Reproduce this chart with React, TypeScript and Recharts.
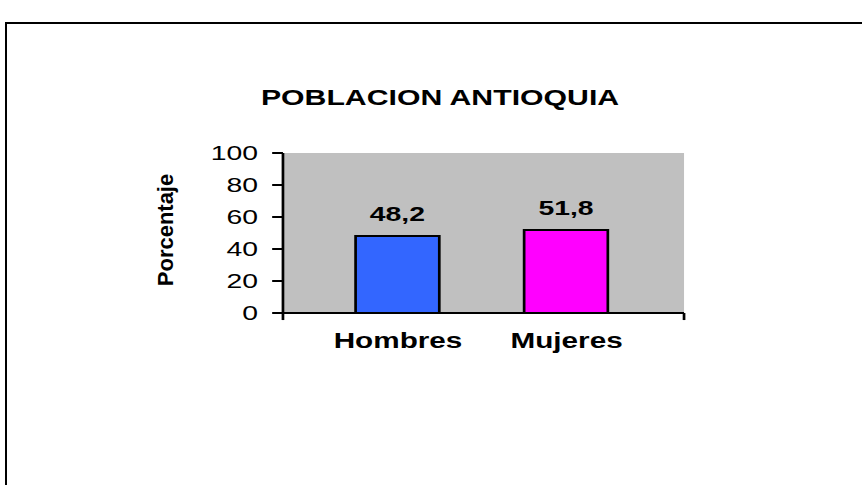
import React from 'react';
import { BarChart, Bar, XAxis, YAxis, CartesianGrid, LabelList, Label, ReferenceLine, Cell } from 'recharts';

const categories = ['Hombres', 'Mujeres'];
const values = [48.2, 51.8];
const barColors = ['#3366FF', '#FF00FF'];
const yTicks = [0, 20, 40, 60, 80, 100];
const titleText = 'POBLACION ANTIOQUIA';
const yAxisTitle = 'Porcentaje';

const data = categories.map((name, i) => ({ name, value: values[i] }));

const S = 1.35;
const W = 862 / S;
const FONT = '"Liberation Sans", Arial, sans-serif';

const fmt = (v: number) => String(v).replace('.', ',');

const YTitle = (props: any) => {
  const vb = props.viewBox || {};
  const x = vb.x + 18.5;
  const y = vb.y + vb.height / 2 - 3;
  return (
    <text
      transform={`translate(${x},${y}) scale(${1 / S},1) rotate(-90)`}
      textAnchor="middle"
      fill="#000"
      fontSize={22}
      fontWeight="bold"
      fontFamily={FONT}
    >
      {yAxisTitle}
    </text>
  );
};

export default function App() {
  return (
    <div style={{ position: 'fixed', left: 0, top: 0, width: 862, height: 485, overflow: 'hidden', background: '#fff', fontFamily: FONT }}>
      <div style={{ position: 'absolute', left: 5, top: 22, width: 857, height: 2, background: '#000' }} />
      <div style={{ position: 'absolute', left: 5, top: 22, width: 2, height: 463, background: '#000' }} />
      <div style={{ position: 'absolute', left: 0, top: 0, width: W, height: 485, transform: `scaleX(${S})`, transformOrigin: '0 0' }}>
        <div style={{ position: 'absolute', left: 0, width: 651.9, top: 85, textAlign: 'center', fontWeight: 'bold', fontSize: 22.4, lineHeight: '26px', color: '#000', whiteSpace: 'nowrap' }}>
          {titleText}
        </div>
        <BarChart width={W} height={485} data={data} margin={{ top: 153, right: W - 506.7, bottom: 142, left: 109.6 }}>
          <CartesianGrid fill="#C0C0C0" stroke="none" vertical={false} horizontal={false} />
          <XAxis
            dataKey="name"
            height={30}
            padding={{ left: 22.8, right: 24.6 }}
            axisLine={{ stroke: '#000', strokeWidth: 2 }}
            tickLine={false}
            tickSize={0}
            tickMargin={19}
            tick={{ fill: '#000', fontSize: 22, fontWeight: 'bold', fontFamily: FONT }}
            interval={0}
          />
          <XAxis xAxisId="edge" type="number" domain={[0, 1]} hide />
          <YAxis
            width={100}
            domain={[0, 100]}
            ticks={yTicks}
            interval={0}
            axisLine={{ stroke: '#000', strokeWidth: 2 }}
            tickLine={{ stroke: '#000', strokeWidth: 2 }}
            tickSize={8}
            tickMargin={10.5}
            tick={{ fill: '#000', fontSize: 21, fontFamily: FONT }}
          >
            <Label content={<YTitle />} />
          </YAxis>
          <ReferenceLine xAxisId="edge" segment={[{ x: 0, y: 0 }, { x: 0, y: -4.4 }]} stroke="#000" strokeWidth={2} ifOverflow="visible" />
          <ReferenceLine xAxisId="edge" segment={[{ x: 1, y: 0 }, { x: 1, y: -4.4 }]} stroke="#000" strokeWidth={2} ifOverflow="visible" />
          <Bar dataKey="value" barSize={62} stroke="#000" strokeWidth={2} isAnimationActive={false}>
            {data.map((d, i) => (
              <Cell key={d.name} fill={barColors[i]} />
            ))}
            <LabelList dataKey="value" position="top" offset={15} formatter={(v: any) => fmt(v)} style={{ fill: '#000', fontSize: 21, fontWeight: 'bold', fontFamily: FONT }} />
          </Bar>
        </BarChart>
      </div>
    </div>
  );
}
